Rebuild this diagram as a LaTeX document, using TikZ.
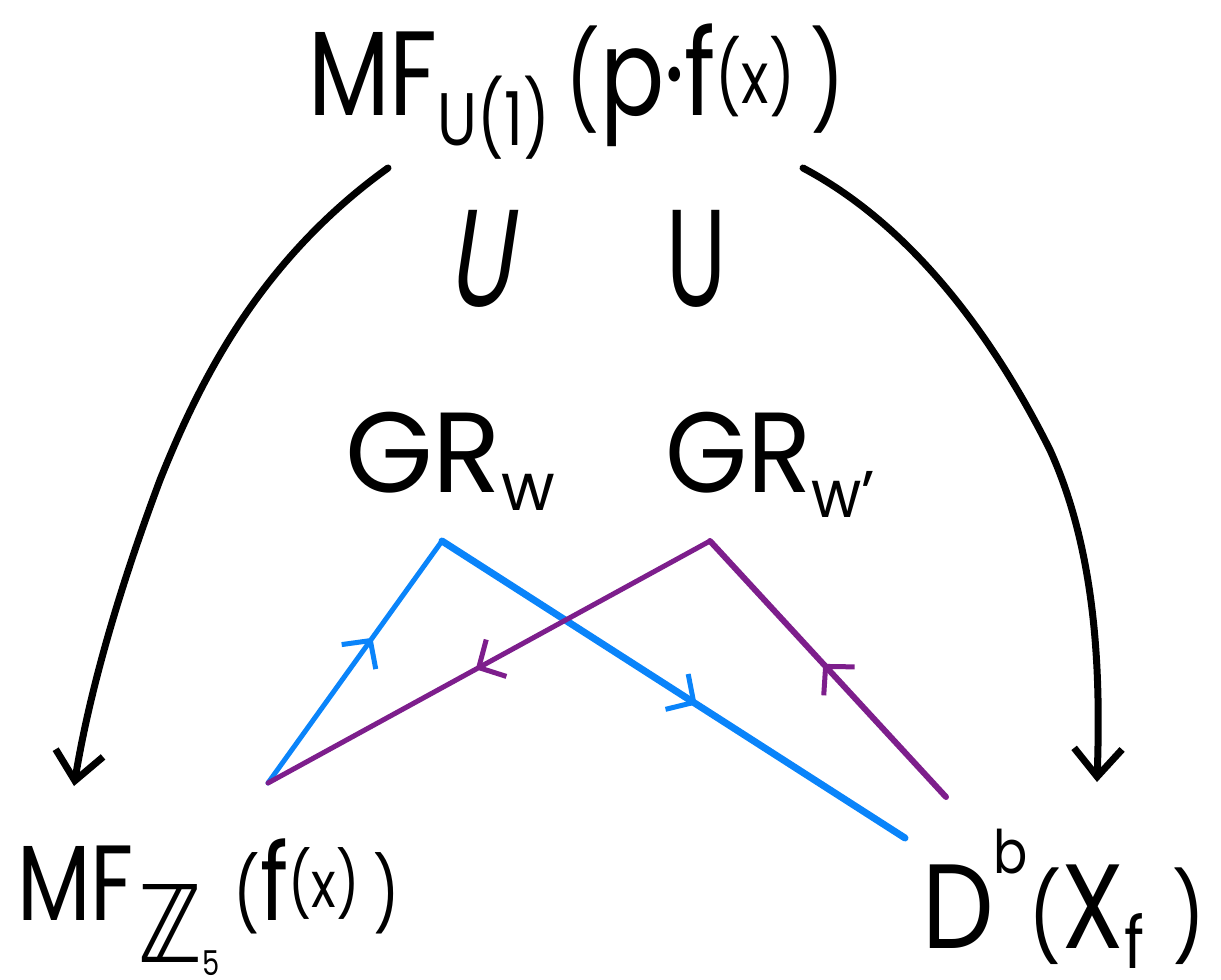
\documentclass[tikz,border=0pt]{standalone}
\usepackage{fontspec}
\setmainfont{Poppins}
\newfontfamily\djv{DejaVu Sans}
\usetikzlibrary{decorations.markings,arrows.meta}
% raised/lowered scaled piece: #1 shift, #2 scale, #3 text
\newcommand\myshift[3]{\raisebox{#1}{\scalebox{#2}{#3}}}
\definecolor{hblue}{RGB}{10,132,250}
\definecolor{hpurple}{RGB}{125,30,140}
\tikzset{
  lbl/.style={inner sep=0pt, anchor=base west},
  curvearrow/.style={line width=7pt, line cap=round, -{Straight Barb[length=28pt,width=48pt,line width=7pt]}},
  midarrow/.style={postaction={decorate}, decoration={markings, mark=at position #1 with {\arrow{Straight Barb[length=20pt,width=42pt,line width=5pt]}}}}
}
\begin{document}
\begin{tikzpicture}[x=1pt,y=-1pt]
\useasboundingbox (0,0) rectangle (1221,980);
% labels
\node[lbl, font=\fontsize{120}{120}\selectfont] (top) at (308,115)
  {\resizebox{537pt}{\height}{MF\myshift{-0.25em}{0.62}{U(1)}\,\myshift{0em}{0.8}{(}p·f\myshift{0.1em}{0.6}{(x)}\,\myshift{0em}{0.8}{)}}};
\node[lbl, font=\fontsize{107}{107}\selectfont] (bl) at (17,920)
  {\resizebox{383pt}{\height}{MF\kern0.06em\myshift{-0.4em}{1.0}{{\djv ℤ}\myshift{-0.12em}{0.32}{5}}\,\myshift{0em}{0.68}{(}f\myshift{0.12em}{0.6}{(x)}\,\myshift{0em}{0.68}{)}}};
\node[lbl, font=\fontsize{120}{120}\selectfont] (br) at (922,948)
  {\resizebox{283pt}{\height}{D\myshift{0.62em}{0.5}{b}\myshift{0em}{0.72}{(}X\myshift{-0.17em}{0.6}{f}\;\myshift{0em}{0.72}{)}}};
\node[lbl, font=\fontsize{114}{114}\selectfont] (grw) at (345,492)
  {\resizebox{210pt}{\height}{GR\myshift{-0.16em}{0.58}{w}}};
\node[lbl, font=\fontsize{114}{114}\selectfont] (grwp) at (665,492)
  {\resizebox{210pt}{\height}{GR\myshift{-0.22em}{0.58}{w’}}};
\node[lbl, font=\fontsize{138}{138}\selectfont, xslant=0.15, transform shape] (subl) at (447,306)
  {\resizebox{64pt}{\height}{U}};
\node[lbl, font=\fontsize{138}{138}\selectfont] (subr) at (666,306)
  {\resizebox{60pt}{\height}{U}};
% curved arrows
\coordinate (ls) at (388,168);
\coordinate (le) at (74,786);
\coordinate (rs) at (803,168);
\coordinate (re) at (1097,782);
\draw[curvearrow] (ls) .. controls (260,260) and (200,380) .. (160,480) .. controls (115,600) and (88,700) .. (le);
\draw[curvearrow] (rs) .. controls (920,230) and (1000,350) .. (1050,450) .. controls (1100,560) and (1100,690) .. (re);
% coloured paths
\coordinate (a) at (268,783);
\coordinate (b) at (442,541);
\coordinate (c) at (905,838);
\coordinate (d) at (710,541);
\coordinate (e) at (946,797);
\draw[hblue, line width=5pt, line cap=round, midarrow=0.6] (a) -- (b);
\draw[hblue, line width=7pt, line cap=round, midarrow=0.55] (b) -- (c);
\draw[hpurple, line width=6pt, line cap=round, midarrow=0.52] (e) -- (d);
\draw[hpurple, line width=5pt, line cap=round, midarrow=0.53] (d) -- (a);
\end{tikzpicture}
\end{document}
